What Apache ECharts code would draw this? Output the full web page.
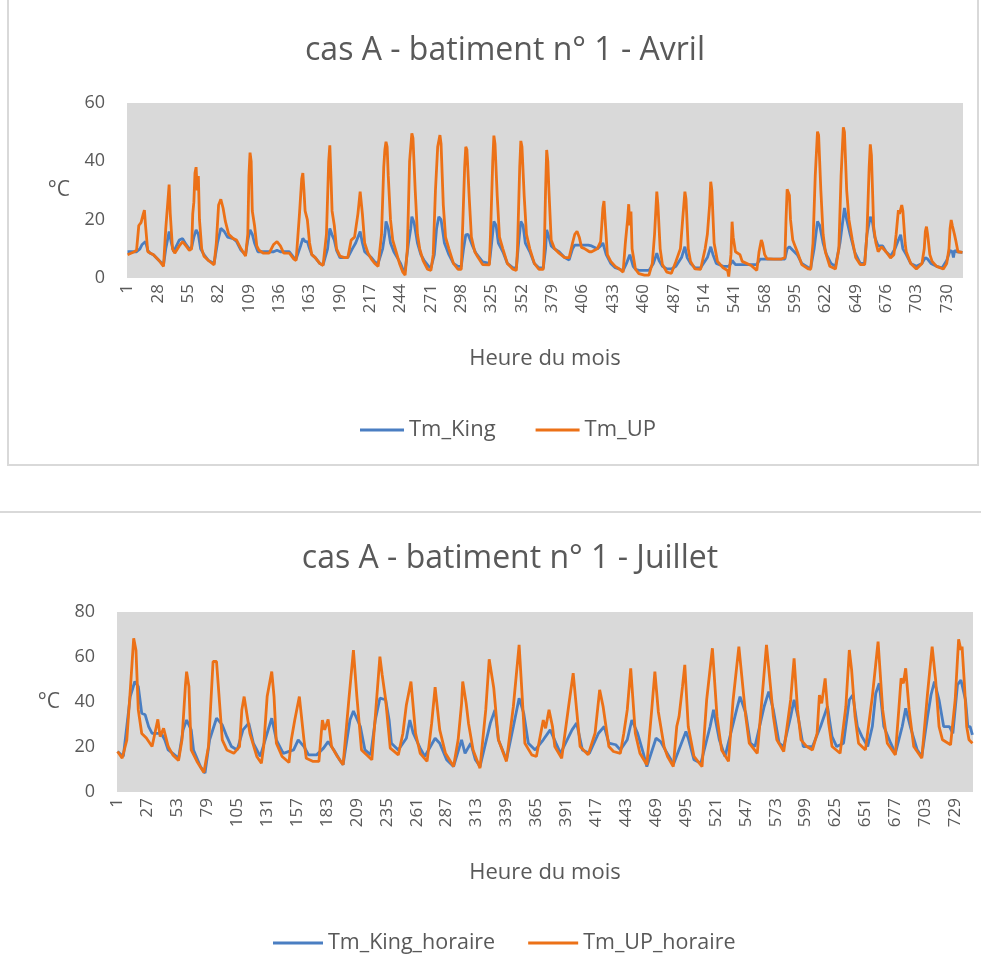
<!DOCTYPE html>
<html>
<head>
<meta charset="utf-8">
<title>cas A - batiment n° 1</title>
<script src="https://cdn.jsdelivr.net/npm/echarts@6/dist/echarts.min.js"></script>
<style>
  body { margin: 0; background: #fff; }
  #chart { position: absolute; left: 0; top: 0; width: 981px; height: 974px; }
  /* cadres gris autour des graphiques (comme dans Excel) */
  .cadre1 { position: absolute; left: 7px; top: -2px; width: 972px; height: 468px;
            box-sizing: border-box; border: 2px solid #D9D9D9; }
  .cadre2 { position: absolute; left: 0; top: 511px; width: 981px; height: 0;
            border-top: 2px solid #D9D9D9; }
</style>
</head>
<body>
<div class="cadre1"></div>
<div class="cadre2"></div>
<div id="chart"></div>
<script>
  // heures du mois (744 heures)
  var heures = Array.from({length: 744}, function (_, i) { return String(i + 1) })

  // Avril : [heure (index), valeur °C]
  var avrilKing = [
    [0,9],[8,9],[11,10],[13,11.5],[16,12.5],[18,9.5],[20,8.5],[23,8],[28,6],[32,4.5],
    [34,10],[37,15.9],[39,12],[41,9],[46,13],[49,13.5],[52,11.5],[55,10],[57,10.5],
    [59,14],[61,16.5],[63,15],[65,10],[68,8],[72,6],[77,5],
    [80,12],[83,17],[86,16],[89,14],[94,13.5],[97,12.5],[101,9.5],[105,8],
    [107,13],[109,16.5],[111,15],[113,12],[116,9],[121,9],[126,9],
    [130,9],[133,9.5],[136,9],[139,9],[144,9],[148,7],[150,6.5],
    [154,11],[156,13.6],[158,12.5],[160,12.5],[162,10],[164,8],[167,7],[171,5],[174,4.5],
    [178,10],[180,17],[182,14.8],[184,13],[186,9.5],[189,7],[193,7],[196,7],
    [200,10],[203,12],[205,14],[207,15.9],[209,12],[211,9],[214,8],[217,7],[220,5.5],[223,5],
    [227,10],[229,15],[230,19.4],[232,17],[234,12],[237,9],[240,7],[243,5],[245,3],[247,2.5],
    [250,12],[252,17],[253,21],[255,19],[258,12],[261,8],[264,6],[268,4],[270,3.5],
    [273,8],[275,17],[277,21],[279,20],[282,12],[286,8],[290,5],[294,4],[297,4],
    [299,10],[301,14.8],[303,15],[305,13],[307,11],[310,8.5],[316,5.5],[322,5],
    [324,12],[326,19.4],[328,18],[330,12],[334,9],[338,5],[343,3.5],[346,3.5],
    [348,12],[350,19.4],[352,18],[354,12],[358,9],[362,5],[366,3.5],[370,3.5],
    [372,10],[373,16.5],[375,14],[377,11],[380,10],[384,9],[389,7],[393,6.2],
    [396,10],[398,11.3],[404,11.3],[410,11.3],[413,11],[418,10],[421,11],
    [423,12],[424,12.5],[426,8],[430,5],[434,3.5],[438,3],[441,2.5],
    [444,5],[446,7],[447,8],[448,8],[450,4],[452,3],[455,2.6],[460,2.6],[464,2.6],
    [468,5],[471,8.5],[473,6],[476,4],[480,3.1],[484,3.1],[488,4],
    [493,7],[496,10.7],[498,7],[501,5],[505,3.5],[510,3.5],
    [516,7],[519,10.7],[521,8],[524,5],[530,4],[535,4],
    [537,5],[538,6],[541,4.6],[547,4.6],[555,4.6],[560,4.6],
    [563,6.5],[566,6.5],[575,6.5],[585,6.5],
    [587,10],[589,10.7],[592,9.5],[596,8],[600,5],[606,3.5],[608,3.5],
    [611,10],[614,19.4],[616,18],[619,12],[622,8],[626,5],[630,4],
    [634,12],[636,18],[638,24],[640,20],[643,15],[647,9],[652,5],[656,5],
    [658,15],[661,21],[663,19],[665,14],[668,11],[672,11],[675,9],[679,7.5],
    [683,10],[686,13],[688,14.8],[690,10],[693,8],[697,5],[702,4],
    [707,5],[710,7],[712,6.5],[715,5],[720,4],[725,3.5],
    [729,6],[732,9.4],[734,9],[735,7],[736,9.4],[738,9],[743,8.8]
  ]
  var avrilUP = [
    [0,8],[6,9],[8,9.5],[10,18],[12,19],[14,22],[15,23.3],[16,18],[18,9],[23,8],[28,6],[32,4],
    [34,17],[36,27],[37,32],[38,22],[40,10],[42,8.5],[46,11],[49,12.5],[52,11],[55,9.5],[57,10],
    [58,22],[59,26],[60,36],[61,38],[62,30],[63,35],[64,20],[66,10],[68,7.5],[72,6],[77,4.5],
    [79,12],[81,25],[82,26],[83,27],[85,24],[87,19.5],[90,15],[94,13.5],[97,13],[101,10],[105,7.5],
    [107,15],[108,35],[109,43],[110,40],[111,23],[113,18],[115,11],[117,9.5],[121,8.5],[126,8.5],
    [130,11.5],[133,12.5],[136,11],[139,8.5],[144,8.5],[148,6.5],[150,6],
    [153,22],[155,34],[156,36],[157,30],[158,23],[160,20],[162,12],[164,8],[167,7],[171,5],[174,4.3],
    [177,15],[179,40],[180,45.5],[181,35],[182,23],[184,18],[186,10],[189,7.5],[193,7],[196,7],
    [199,13],[202,14],[205,22],[207,29.6],[209,22],[211,12],[214,8.5],[217,6.5],[220,5],[223,4],
    [226,15],[228,38],[229,44],[230,46.7],[231,45],[232,35],[234,20],[236,13],[239,9],[242,5],[245,2],[247,1],
    [249,10],[251,40],[253,49.6],[254,48],[256,30],[258,15],[260,10],[263,6],[267,3],[270,2.6],
    [272,8],[274,30],[276,45],[278,49],[279,46],[281,25],[283,14],[286,10],[290,5],[294,3],[297,3],
    [298,15],[300,38],[301,45],[302,44],[304,28],[306,14],[309,9],[312,7],[316,4.6],[322,4.5],
    [323,15],[325,40],[326,48.8],[327,46],[329,28],[331,14],[334,10],[338,5],[343,3],[346,2.6],
    [347,10],[349,38],[350,47],[351,45],[353,28],[355,15],[358,10],[362,5],[366,3],[370,3],
    [371,12],[372,30],[373,43.9],[374,40],[375,30],[377,13],[380,10],[384,8.5],[389,7],[393,7],
    [396,12],[398,15],[400,16],[402,14],[404,10.5],[407,10],[409,9.5],[411,9],[413,9],[418,10],[421,12.5],
    [422,18],[423,24],[424,26.4],[425,20],[427,8],[430,5.7],[434,4],[438,3],[441,2],
    [443,12],[445,20],[446,25.3],[447,18],[448,22.8],[449,10],[452,3],[455,1.5],[460,1],[464,1],
    [467,5],[469,15],[471,29.6],[472,25],[474,10],[476,4.6],[480,2],[484,1.6],[488,5.7],
    [492,10],[494,20],[496,29.6],[497,27],[499,10],[501,5.7],[505,3.1],[510,3],
    [514,10],[516,15],[518,25],[519,33],[520,30],[522,12],[525,5.7],[530,3.5],[534,2.6],[535,0.5],
    [537,8],[538,19.3],[539,14],[541,9],[545,8],[547,5.7],[555,4.3],[560,2.6],
    [562,9],[564,13],[565,12],[567,8],[569,6.6],[575,6.5],[582,6.5],[585,7],
    [586,20],[587,30.4],[589,28.4],[590,20],[592,13],[594,11],[596,9],[600,4.6],[606,3.1],[608,3],
    [610,12],[612,35],[614,50.2],[615,49],[617,30],[619,15],[621,9],[625,4],[630,3.1],
    [633,10],[635,35],[637,51.7],[638,50],[640,30],[642,20],[645,13],[648,7],[652,4.6],[656,4.6],
    [658,15],[660,38],[661,45.8],[662,42],[663,30],[664,17.5],[666,12],[668,9],[671,10.7],[675,9],[679,6.9],
    [682,8],[684,15],[686,23.3],[687,22],[689,25],[690,23],[692,12],[693,9],[697,5],[702,3.1],
    [707,5],[709,10],[710,16],[711,17.6],[712,15],[714,8],[716,5.7],[720,4],[726,3.1],
    [729,5],[731,10],[732,17],[733,19.9],[734,18],[736,14.8],[737,13],[738,12.5],[739,9],[743,8.8]
  ]

  // Juillet
  var juilletKing = [
    [0,18],[5,15.8],[11,42.4],[15,49.1],[18,46.9],[21,35],[24,34.3],[27,29.1],[30,26.1],[38,26.1],[41,23.2],[44,18.7],[48,17.2],[53,15],
    [57,27.6],[60,32],[64,27.6],[66,18.7],[72,11.3],[76,8.4],
    [80,23.2],[86,32.8],[91,29.8],[95,24.6],[99,20.2],[104,18.7],
    [109,27.6],[114,30.6],[118,21.7],[124,15.8],
    [130,26.1],[134,32.8],[138,23.2],[144,17.2],
    [153,18.7],[157,23.2],[162,20.2],[166,16.5],[173,16.5],
    [179,19.5],[183,22.4],[188,18.7],[193,14.3],[196,12.1],
    [202,32],[205,36],[211,29.1],[215,18.7],[220,16.5],
    [224,32],[228,41.7],[233,41],[236,32],[238,21.7],[244,18.7],
    [251,23.9],[254,32],[257,26.1],[263,19.5],[267,15.8],
    [276,23.9],[280,21.7],[286,14.3],[292,11.3],
    [299,23.2],[302,17.2],[307,21.7],[311,14.3],[315,11.3],
    [324,30.6],[328,36.5],[331,23.2],[338,14.3],
    [344,29.1],[349,41.7],[353,35],[357,21.7],[363,18.7],
    [370,23.2],[376,27.6],[381,21.7],[385,17.2],
    [395,27.6],[399,30.6],[404,18.7],[410,17.2],
    [418,26.1],[423,29.1],[427,21.7],[433,21],[437,18.7],
    [443,23.2],[447,32],[452,26.1],[457,17.2],[460,11.3],
    [468,23.9],[472,22.4],[476,18.7],[481,14.3],[483,12.1],
    [489,20.2],[494,26.9],[496,23.9],[501,14.3],[507,12.8],
    [515,29.1],[518,36.5],[523,23.2],[528,15.8],
    [538,36.5],[541,42.4],[546,35],[550,21.7],[554,20.2],
    [562,38],[566,44.6],[570,36.5],[575,21.7],[579,20.2],
    [585,33.5],[588,41],[592,32],[596,20.2],[604,20.2],
    [611,29.1],[617,38],[621,24.6],[625,20.2],[631,21.7],
    [636,40.9],[639,43.1],[643,29.1],[647,24.6],[652,20.2],
    [656,29.1],[659,43.9],[662,48.3],[666,29.1],[672,21.7],[676,17.2],
    [682,29.1],[685,37.2],[689,29.1],[695,18.7],[699,15.8],
    [704,33.5],[707,43.1],[710,49.1],[714,40.9],[718,29.1],[723,29.1],[726,26.1],
    [730,47.6],[733,49.8],[737,40.9],[739,29.1],[741,29.1],[743,25.4]
  ]
  var juilletUP = [
    [0,18],[4,15],[8,23],[11,45],[14,68.3],[16,63],[18,36.5],[21,26],[25,24],[30,20.2],
    [35,32.3],[37,24.6],[40,28.3],[44,20.2],[48,16.5],[53,14],
    [56,23.2],[59,47.6],[60,53.5],[62,46.9],[64,18.7],[69,13.6],[75,8.7],
    [79,20.2],[83,58],[86,58],[91,23.2],[95,18.7],[101,17.2],
    [106,20.2],[108,36.5],[110,42.4],[115,26.1],[121,15.8],[125,12.8],
    [127,20.2],[130,42.4],[134,53.5],[136,42.4],[138,21.7],[143,15.8],[149,13.1],
    [151,23.2],[154,32],[158,42.4],[162,23.2],[164,15],[170,13.6],[175,13.6],
    [178,32],[180,27.6],[183,32.3],[186,20.2],[191,15.8],[196,12.1],
    [201,40.9],[205,63.1],[208,42.4],[212,18.7],[218,15.8],[221,14.3],
    [224,33.5],[228,60.2],[230,52],[233,41],[237,19.5],[244,16.5],
    [248,26.1],[251,38.7],[255,49.1],[259,26.1],[263,17.2],[269,13.6],
    [273,30.6],[276,46.6],[280,27.6],[285,17.2],[292,11.3],
    [296,23.2],[299,39.4],[300,49.1],[303,39.4],[305,30.6],[309,18.7],[315,10.6],
    [320,36.5],[323,59],[327,46.1],[331,23.2],[338,13.6],
    [344,38],[349,65.4],[351,48.3],[354,21.7],[360,16.5],[364,15.8],
    [370,32],[372,28.3],[375,36.5],[378,29.1],[380,20.2],[386,15],
    [392,38],[396,52.8],[399,36.5],[402,20.2],[409,16.5],
    [415,26.1],[419,45.4],[422,38],[427,20.2],[431,18],[437,17.2],
    [440,26.1],[443,36.5],[446,55],[450,26.1],[454,17.2],[460,12.1],
    [464,35],[467,53.5],[470,35.7],[475,20.2],[478,15.8],[483,11.3],
    [486,29.1],[488,33.5],[491,46.8],[493,56.5],[496,29.1],[501,15.8],[508,11.3],
    [512,40.9],[517,63.9],[521,33.5],[525,18.7],[531,13.6],
    [535,40.9],[540,64.6],[546,33.5],[549,21.7],[556,17.2],
    [560,40.9],[564,65.4],[570,33.5],[573,23.2],[579,18],
    [585,40.9],[588,59.4],[591,36.5],[594,23.2],[599,20.2],[604,18.7],
    [608,26.1],[610,43.1],[612,39.4],[615,50.5],[618,30.6],[621,20.2],[628,17.2],
    [633,38],[636,63.1],[638,54.3],[641,33.5],[644,21.7],[650,18.7],
    [656,42.4],[661,66.8],[665,36.5],[669,21.7],[676,16.5],
    [679,36.5],[681,50.5],[683,48.3],[685,55],[688,36.5],[692,20.2],[699,15],
    [704,43.9],[708,64.6],[711,49.8],[714,29.1],[717,23.2],[724,21],
    [728,40.9],[731,67.9],[733,63.1],[734,64.6],[736,48.3],[738,29.1],[740,23.2],[743,21.7]
  ]

  var bleu = '#4A7EC2'
  var orange = '#EC7117'
  var gris = '#595959'
  var police = '"Open Sans", sans-serif'

  function axeX(idx, intervalle, gap) {
    return {
      type: 'category', gridIndex: idx, data: heures, boundaryGap: true,
      axisLine: {show: false}, axisTick: {show: false},
      axisLabel: {interval: intervalle, rotate: 90, fontSize: 17, color: gris, fontFamily: police, margin: 6},
      name: 'Heure du mois', nameLocation: 'middle', nameGap: gap,
      nameTextStyle: {fontSize: 22, color: gris, fontFamily: police}
    }
  }
  function axeY(idx, max, gap) {
    return {
      type: 'value', gridIndex: idx, min: 0, max: max, interval: 20,
      splitLine: {show: false}, axisLine: {show: false}, axisTick: {show: false},
      axisLabel: {fontSize: 18, color: gris, fontFamily: police, margin: 22},
      name: '°C', nameLocation: 'middle', nameRotate: 0, nameGap: gap,
      nameTextStyle: {fontSize: 21, color: gris, fontFamily: police}
    }
  }
  function serie(nom, donnees, couleur, idx) {
    return {
      name: nom, type: 'line', xAxisIndex: idx, yAxisIndex: idx,
      data: donnees, showSymbol: false, symbol: 'none', color: couleur,
      lineStyle: {width: 2.8, color: couleur}
    }
  }

  var chart = echarts.init(document.getElementById('chart'))
  chart.setOption({
    animation: false,
    title: [
      {text: 'cas A - batiment n° 1 - Avril', left: 500, top: 30, textAlign: 'center',
        textStyle: {fontSize: 32, fontWeight: 'normal', color: gris, fontFamily: police}},
      {text: 'cas A - batiment n° 1 - Juillet', left: 505, top: 538, textAlign: 'center',
        textStyle: {fontSize: 32, fontWeight: 'normal', color: gris, fontFamily: police}}
    ],
    legend: [
      {data: ['Tm_King', 'Tm_UP'], left: 355, top: 414, icon: 'rect', itemWidth: 44, itemHeight: 3,
        itemGap: 40, textStyle: {fontSize: 22, color: gris, fontFamily: police}},
      {data: ['Tm_King_horaire', 'Tm_UP_horaire'], left: 268, top: 927, icon: 'rect', itemWidth: 50, itemHeight: 3,
        itemGap: 33, textStyle: {fontSize: 21.5, color: gris, fontFamily: police}}
    ],
    grid: [
      {left: 127, top: 103, width: 836, height: 175, show: true, backgroundColor: '#D9D9D9', borderWidth: 0},
      {left: 117, top: 612, width: 856, height: 180, show: true, backgroundColor: '#D9D9D9', borderWidth: 0}
    ],
    xAxis: [axeX(0, 26, 70), axeX(1, 25, 70)],
    yAxis: [axeY(0, 60, 57), axeY(1, 80, 57)],
    series: [
      serie('Tm_King', avrilKing, bleu, 0),
      serie('Tm_UP', avrilUP, orange, 0),
      serie('Tm_King_horaire', juilletKing, bleu, 1),
      serie('Tm_UP_horaire', juilletUP, orange, 1)
    ]
  })
</script>
</body>
</html>
